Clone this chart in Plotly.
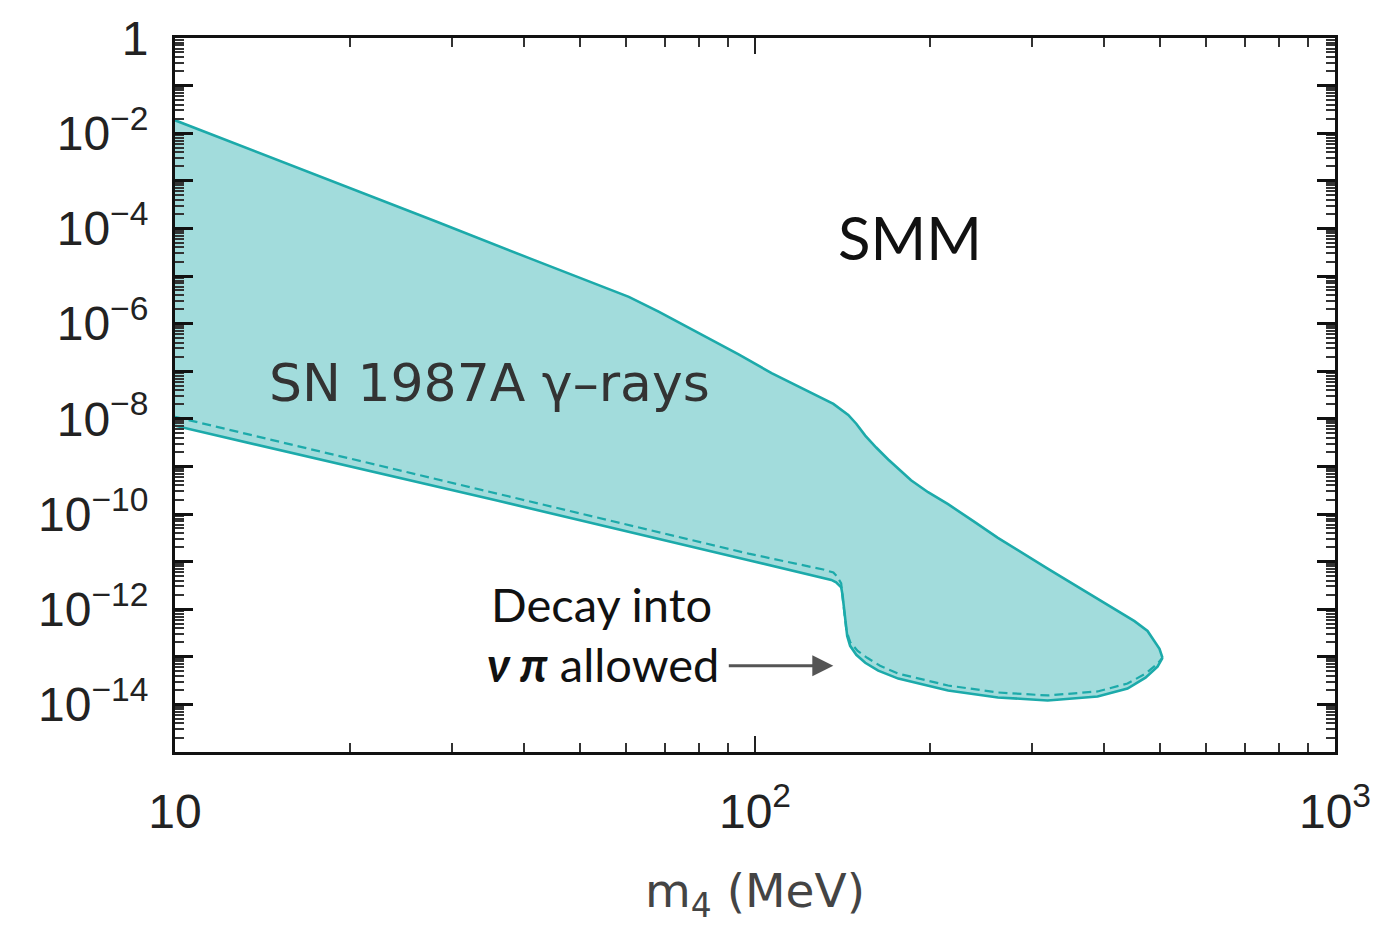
import plotly.graph_objects as go

# ---- data (m4 in MeV, |U|^2) ----
upper_m = [10, 13.45, 16.6, 21.6, 28.2, 40.8, 53.8, 60.6, 68.2, 80.0, 93.7, 106.8,
           125.1, 136.5, 144.8, 149.5, 154.9, 161.8, 169.7, 176.6, 185.8, 198.8,
           215.2, 237.6, 262.3, 319.6, 389.6, 421.8, 451.1, 475.1, 488.4, 498.2, 504.2]
upper_u = [1.87e-2, 4.64e-3, 1.69e-3, 4.87e-4, 1.40e-4, 2.37e-5, 6.49e-6, 3.65e-6,
           1.78e-6, 6.19e-7, 2.26e-7, 9.08e-8, 3.48e-8, 2.05e-8, 1.21e-8, 7.87e-9,
           4.43e-9, 2.49e-9, 1.40e-9, 9.08e-10, 5.11e-10, 2.87e-10, 1.61e-10,
           7.15e-11, 3.16e-11, 7.15e-12, 1.69e-12, 9.53e-13, 5.62e-13, 3.48e-13,
           2.15e-13, 1.47e-13, 9.53e-14]

lower_m = [10, 36.2, 97.5, 131.2, 135.4, 138.0, 140.8, 141.5, 142.2, 143.1, 144.2,
           145.9, 149.5, 154.9, 163.1, 176.6, 215.2, 262.3, 319.6, 389.6, 438.8,
           471.3, 494.3, 504.2]
lower_u = [7.15e-9, 1.87e-10, 1.07e-11, 4.64e-12, 4.12e-12, 3.65e-12, 2.88e-12,
           2.05e-12, 1.15e-12, 4.87e-13, 2.74e-13, 1.70e-13, 1.10e-13, 7.50e-14,
           5.13e-14, 3.48e-14, 1.96e-14, 1.40e-14, 1.21e-14, 1.47e-14, 2.15e-14,
           3.65e-14, 6.19e-14, 9.53e-14]

dash_m = [10, 97.5, 131.2, 136.5, 138.5, 140.8, 141.5, 142.8, 143.8, 145.9, 150.3,
          156.1, 164.3, 176.6, 215.2, 262.3, 319.6, 389.6, 438.8, 471.3, 494.3, 504.2]
dash_u = [1.10e-8, 1.47e-11, 6.81e-12, 5.90e-12, 4.87e-12, 3.48e-12, 1.87e-12,
          7.15e-13, 3.48e-13, 2.05e-13, 1.33e-13, 9.53e-14, 6.49e-14, 4.43e-14,
          2.49e-14, 1.78e-14, 1.54e-14, 1.87e-14, 2.74e-14, 4.43e-14, 7.15e-14, 9.53e-14]

y_labeled = [1, 1e-2, 1e-4, 1e-6, 1e-8, 1e-10, 1e-12, 1e-14]
y_labels = ["1", "10<sup>−2</sup>", "10<sup>−4</sup>", "10<sup>−6</sup>",
            "10<sup>−8</sup>", "10<sup>−10</sup>", "10<sup>−12</sup>", "10<sup>−14</sup>"]
y_unlabeled = [1e-1, 1e-3, 1e-5, 1e-7, 1e-9, 1e-11, 1e-13, 1e-15]
x_major = [10, 100, 1000]
x_labels = ["10", "10<sup>2</sup>", "10<sup>3</sup>"]

FILL = "rgb(162,220,220)"
LINE = "rgb(28,170,170)"

fig = go.Figure()
poly_x = upper_m + lower_m[::-1]
poly_y = upper_u + lower_u[::-1]
fig.add_trace(go.Scatter(x=poly_x, y=poly_y, fill="toself", fillcolor=FILL,
                         mode="none", hoverinfo="skip", showlegend=False))
fig.add_trace(go.Scatter(x=dash_m, y=dash_u, mode="lines",
                         line=dict(color=LINE, width=2.2, dash="9px,5px"),
                         showlegend=False))
fig.add_trace(go.Scatter(x=upper_m, y=upper_u, mode="lines",
                         line=dict(color=LINE, width=2.6), showlegend=False))
fig.add_trace(go.Scatter(x=lower_m, y=lower_u, mode="lines",
                         line=dict(color=LINE, width=2.6), showlegend=False))
# invisible trace so the overlay axis carrying the unlabeled decade ticks is drawn
fig.add_trace(go.Scatter(x=[upper_m[0]], y=[upper_u[0]], mode="markers",
                         marker=dict(opacity=0), yaxis="y2", hoverinfo="skip",
                         showlegend=False))

y_minor = [m * 10.0 ** (-k) for k in range(1, 16) for m in range(2, 10)]
x_minor = [m * 10.0 ** k for k in (1, 2) for m in range(2, 10)]

fig.update_layout(
    xaxis=dict(type="log", range=[1, 3], tickmode="array", tickvals=x_major,
               ticktext=x_labels, ticks="inside", ticklen=16, tickwidth=2,
               tickcolor="#222", showline=True, linecolor="#111", linewidth=3,
               mirror="ticks", showgrid=False, zeroline=False,
               tickfont=dict(family="Liberation Sans", size=48, color="#222"),
               ticklabelstandoff=15,
               minor=dict(ticks="inside", ticklen=9, tickwidth=2, tickcolor="#333",
                          tickmode="array", tickvals=x_minor, showgrid=False),
               title=dict(text="m<sub>4</sub> (MeV)",
                          font=dict(family="DejaVu Sans", size=47, color="#444"),
                          standoff=38)),
    yaxis=dict(type="log", range=[-15, 0], tickmode="array", tickvals=y_labeled,
               ticktext=y_labels, ticks="inside", ticklen=18, tickwidth=2.5,
               tickcolor="#111", showline=True, linecolor="#111", linewidth=3,
               mirror="ticks", showgrid=False, zeroline=False,
               tickfont=dict(family="Liberation Sans", size=48, color="#222"),
               ticklabelstandoff=14,
               minor=dict(ticks="inside", ticklen=9, tickwidth=2, tickcolor="#333",
                          tickmode="array", tickvals=y_minor, showgrid=False)),
    yaxis2=dict(type="log", range=[-15, 0], overlaying="y", side="left",
                tickmode="array", tickvals=y_unlabeled, showticklabels=False,
                ticks="inside", ticklen=18, tickwidth=2.5, tickcolor="#111",
                showline=False, mirror="ticks", showgrid=False, zeroline=False),
)

fig.add_annotation(x=2.267, y=-4.19, xref="x", yref="y", text="SMM", showarrow=False,
                   font=dict(family="Lato", size=60, color="#111"))
fig.add_annotation(x=1.542, y=-7.25, xref="x", yref="y", text="SN 1987A γ–rays",
                   showarrow=False,
                   font=dict(family="DejaVu Sans", size=52, color="#333"))
fig.add_annotation(x=1.736, y=-11.9, xref="x", yref="y", text="Decay into",
                   showarrow=False, font=dict(family="Lato", size=47, color="#111"))
fig.add_annotation(x=1.941, y=-13.15, xref="x", yref="y", xanchor="right",
                   text="<b><i>ν π</i></b> allowed",
                   showarrow=False, font=dict(family="Lato", size=47, color="#111"))
fig.add_annotation(x=2.135, y=-13.19, xref="x", yref="y", ax=-106, ay=0,
                   axref="pixel", ayref="pixel", text="", showarrow=True,
                   arrowhead=2, arrowsize=1.4, arrowwidth=3, arrowcolor="#555")

fig.update_layout(width=1383, height=927, plot_bgcolor="white", paper_bgcolor="white",
                  margin=dict(l=175, r=45, t=33, b=175), showlegend=False)

fig.write_html("out.html")
